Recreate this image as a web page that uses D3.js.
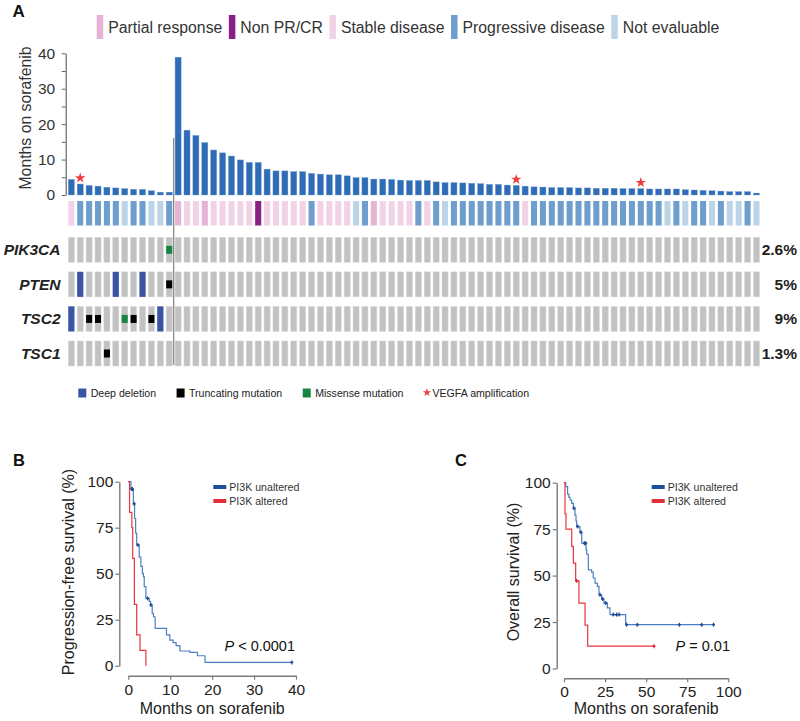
<!DOCTYPE html>
<html><head><meta charset="utf-8">
<script src="https://cdn.jsdelivr.net/npm/d3@7"></script>
<style>body{margin:0;background:#fff} svg{display:block}</style>
</head><body><svg id="c" width="800" height="721"></svg>
<script>
// ---------------- DATA ----------------
const monthsAltered = [4.4, 3.1, 2.7, 2.5, 2.2, 2.0, 1.8, 1.6, 1.6, 1.2, 0.8, 0.8];
const monthsUnaltered = [38.9, 18.3, 16.8, 14.8, 12.7, 11.9, 11.0, 9.9, 9.2, 9.2, 7.3, 6.8, 6.8, 6.6, 6.6, 6.1, 5.9, 5.7, 5.7, 5.4,
  4.9, 4.9, 4.5, 4.5, 4.4, 4.2, 4.1, 4.1, 4.1, 3.7, 3.5, 3.5, 3.4, 3.3, 3.2, 3.0, 3.0, 2.8, 2.7, 2.5,
  2.3, 2.25, 2.1, 2.1, 2.1, 2.0, 2.0, 1.9, 1.9, 1.9, 1.8, 1.8, 1.8, 1.7, 1.7, 1.7, 1.7, 1.5, 1.4, 1.3,
  1.2, 1.1, 0.95, 0.95, 0.95, 0.55];
const responseAltered = ["SD","PD","PD","PD","PD","PD","NE","PD","PD","NE","NE","PD"];
const responseUnaltered = ["PR","SD","SD","PR","SD","SD","SD","SD","SD","NPR","SD","SD","SD","SD","SD","PD","SD","SD","SD","SD",
  "NE","PD","PR","SD","SD","SD","SD","PD","SD","PD","NE","PD","PD","PD","PD","PD","PD","PD","PD","SD",
  "PD","PD","PD","PD","PD","PD","PD","PD","PD","PD","PD","PD","PD","PD","PD","NE","PD","NE","PD","PD",
  "NE","PD","NE","NE","PD","NE"];
const vegfaAltered = [1];
const vegfaUnaltered = [38, 52];
const responseCodes = ["PR","NPR","SD","PD","NE"];
const responseLabels = ["Partial response","Non PR/CR","Stable disease","Progressive disease","Not evaluable"];
const responseColors = ["#e5b3d5","#8b2084","#f1d2e7","#6e9ecd","#bcd4e8"];
const genes = ["PIK3CA","PTEN","TSC2","TSC1"];
const genePct = ["2.6%","5%","9%","1.3%"];
const altGene   = ["PIK3CA","PTEN","PTEN","PTEN","PTEN","TSC2","TSC2","TSC2","TSC2","TSC2","TSC2","TSC2","TSC1"];
const altSample = [11, 1, 5, 8, 11, 0, 2, 3, 6, 7, 9, 10, 4];
const altType   = ["mis","del","del","del","trunc","del","trunc","trunc","mis","trunc","trunc","del","trunc"];
const altCodes  = ["del","trunc","mis","vegfa"];
const altLabels = ["Deep deletion","Truncating mutation","Missense mutation","VEGFA amplification"];
const altColors = ["#3a55a6","#000000","#17843f","#ee3b3b"];
const yTicksA = [0, 5, 10, 15, 20, 25, 30, 35, 40];

// Kaplan-Meier (B: progression-free survival)
const pfsUnT = [0, 0.64, 1.2, 1.5, 1.75, 2.0, 2.6, 3.0, 3.35, 3.6, 3.8, 4.2, 5.0, 5.3, 5.7, 6.0, 6.4, 9.1, 9.9, 10.7, 11.4, 12.3, 14.7, 16.5, 18.3];
const pfsUnS = [100, 96, 88, 80, 72, 65.6, 59, 54, 50.2, 48.4, 43, 36.6, 35, 33, 28.4, 26.6, 20.3, 16.7, 13.9, 12.5, 10.9, 8, 7.2, 5.4, 1.8];
const pfsUnEnd = 39;
const pfsUnCensT = [0.8, 1.0, 1.4, 2.3, 4.6, 5.4, 39];
const pfsUnCensS = [96, 96, 88, 65.6, 36.6, 33, 1.8];
const pfsAlT = [0, 0.3, 0.85, 1.05, 1.45, 2.0, 2.8, 4.2];
const pfsAlS = [100, 83.3, 75, 58.3, 33.3, 16.7, 8.3, 0];
const pfsAlEnd = 4.2;
// Kaplan-Meier (C: overall survival)
const osUnT = [0, 1.0, 2.2, 3.0, 3.7, 4.7, 5.7, 6.7, 7.3, 7.7, 9.7, 10.8, 13.4, 13.8, 14.8, 16.8, 17.8, 18.9, 20.3, 21.3, 22.9, 24.3, 26.4, 28, 37.5];
const osUnS = [100, 97.9, 93.9, 92.1, 90.7, 88.9, 86.2, 82.6, 79.4, 76.4, 73.3, 67.4, 63.9, 61.5, 53.1, 51.9, 48.7, 46, 44.2, 39.7, 37.4, 35.2, 32.6, 29, 23.6];
const osUnEnd = 91;
const osUnCensT = [6.1, 8.3, 10.3, 12.4, 13.2, 21.9, 23.5, 25.4, 30, 32, 33.5, 38.1, 44.6, 70.2, 83.8, 91];
const osUnCensS = [86.2, 76.4, 73.3, 67.4, 67.4, 39.7, 37.4, 35.2, 29, 29, 29, 23.6, 23.6, 23.6, 23.6, 23.6];
const osAlT = [0, 0.6, 1.2, 4.7, 5.7, 7.1, 9.1, 12.8, 14.4];
const osAlS = [100, 83.2, 75, 65.7, 56.7, 47.2, 35.2, 23.3, 12];
const osAlEnd = 54.8;
const osAlCensT = [7.7, 54.8];
const osAlCensS = [47.2, 12];
const kmLegend = ["PI3K unaltered","PI3K altered"];
const kmColors = ["#4b80c2","#e8363c"];
const kmSwatch = ["#1f4f9c","#e0303a"];
const pfsTicksX = [0, 10, 20, 30, 40];
const osTicksX = [0, 25, 50, 75, 100];
const survTicks = [0, 25, 50, 75, 100];

// ---------------- DRAW ----------------
const FONT = '"Liberation Sans", Arial, Helvetica, sans-serif';
const svg = d3.select("#c").style("font-family", FONT);
svg.append("rect").attr("width", 800).attr("height", 721).attr("fill", "#fff");

const months = monthsAltered.concat(monthsUnaltered);
const response = responseAltered.concat(responseUnaltered);
const vegfa = vegfaAltered.concat(vegfaUnaltered.map(i => i + monthsAltered.length));
const n = months.length;

const x = d3.scaleBand().domain(d3.range(n)).range([68.3, 759.5]).paddingInner(0.32);
const y = d3.scaleLinear().domain([0, 40]).range([195, 53.3]);
const respColor = d3.scaleOrdinal().domain(responseCodes).range(responseColors);
const altColor = d3.scaleOrdinal().domain(altCodes).range(altColors);

// Panel label
svg.append("text").attr("x", 12.5).attr("y", 17).attr("font-size", 17).attr("font-weight", "bold").attr("fill", "#111").text("A");

// top legend
{
  let cx = 96.7;
  const g = svg.append("g");
  responseLabels.forEach((lab, i) => {
    g.append("rect").attr("x", cx).attr("y", 15).attr("width", 6.5).attr("height", 24).attr("fill", responseColors[i]);
    const t = g.append("text").attr("x", cx + 11.5).attr("y", 32.5).attr("font-size", 15.8).attr("fill", "#333").text(lab);
    cx = cx + 11.5 + t.node().getComputedTextLength() + 6.5;
  });
}

// bars
svg.append("g").selectAll("rect").data(months).join("rect")
  .attr("x", (d, i) => x(i)).attr("width", x.bandwidth())
  .attr("y", d => y(d)).attr("height", d => y(0) - y(d))
  .attr("fill", "#2e6cb5").attr("stroke", "#6f9ad0").attr("stroke-width", 0.4);

// y axis
const yAxA = svg.append("g").attr("transform", "translate(65.7,0)")
  .call(d3.axisLeft(y).tickValues(yTicksA).tickSize(4).tickSizeOuter(0).tickPadding(6.5)
    .tickFormat(d => d % 10 === 0 ? d : ""));
yAxA.select(".domain").attr("stroke", "#666").attr("stroke-width", 1.2);
yAxA.selectAll(".tick line").attr("stroke", "#666");
yAxA.selectAll(".tick text").attr("font-size", 15.5).attr("fill", "#333").attr("font-family", FONT);
svg.append("text").attr("transform", "translate(30.5,118) rotate(-90)").attr("text-anchor", "middle")
  .attr("font-size", 15.8).attr("fill", "#333").text("Months on sorafenib");

// VEGFA stars
const star = d3.symbol().type(d3.symbolStar).size(34);
svg.append("g").selectAll("path").data(vegfa).join("path")
  .attr("d", star).attr("fill", altColor("vegfa"))
  .attr("transform", i => `translate(${x(i) + x.bandwidth() / 2},${y(months[i]) - 6})`);

// response row
svg.append("g").selectAll("rect").data(response).join("rect")
  .attr("x", (d, i) => x(i)).attr("width", x.bandwidth())
  .attr("y", 201).attr("height", 24.5).attr("fill", d => respColor(d));

// oncoprint
const row = d3.scaleBand().domain(genes).range([237.3, 366]).paddingInner(0.277);
const og = svg.append("g");
genes.forEach((gname, gi) => {
  og.append("g").selectAll("rect").data(d3.range(n)).join("rect")
    .attr("x", i => x(i)).attr("width", x.bandwidth())
    .attr("y", row(gname)).attr("height", row.bandwidth())
    .attr("fill", "#c2c2c2").attr("stroke", "#d6d6d6").attr("stroke-width", 0.5);
  og.append("text").attr("x", 60.5).attr("y", row(gname) + row.bandwidth() / 2 + 5.5)
    .attr("text-anchor", "end").attr("font-size", 15.5).attr("font-weight", "bold").attr("font-style", "italic")
    .attr("fill", "#222").text(gname);
  og.append("text").attr("x", 797).attr("y", row(gname) + row.bandwidth() / 2 + 5.5)
    .attr("text-anchor", "end").attr("font-size", 15.5).attr("font-weight", "bold")
    .attr("fill", "#222").text(genePct[gi]);
});
og.append("g").selectAll("rect").data(altSample).join("rect")
  .attr("x", s => x(s)).attr("width", x.bandwidth())
  .attr("y", (s, k) => altType[k] === "del" ? row(altGene[k]) : row(altGene[k]) + row.bandwidth() / 2 - 4)
  .attr("height", (s, k) => altType[k] === "del" ? row.bandwidth() : 8)
  .attr("fill", (s, k) => altColor(altType[k]));

// separator line
{
  const na = monthsAltered.length;
  const sx = (x(na - 1) + x.bandwidth() + x(na)) / 2;
  svg.append("line").attr("x1", sx).attr("x2", sx).attr("y1", 138).attr("y2", 365)
    .attr("stroke", "#8a8a8a").attr("stroke-width", 1.3);
}

// bottom legend
{
  let cx = 78.3;
  const g = svg.append("g");
  altLabels.forEach((lab, i) => {
    if (altCodes[i] === "vegfa") {
      g.append("path").attr("d", d3.symbol().type(d3.symbolStar).size(22)).attr("fill", altColors[i])
        .attr("transform", `translate(${cx + 3},${392.5})`);
    } else {
      g.append("rect").attr("x", cx).attr("y", 388.5).attr("width", 8).attr("height", 9).attr("fill", altColors[i]);
    }
    const tx = altCodes[i] === "vegfa" ? cx + 8.5 : cx + 12.4;
    const t = g.append("text").attr("x", tx).attr("y", 397).attr("font-size", 10.6).attr("fill", "#222").text(lab);
    cx = tx + t.node().getComputedTextLength() + 20.5;
  });
}

// ---------------- KM panels ----------------
function kmPanel(opt) {
  const g = svg.append("g");
  const xs = d3.scaleLinear().domain(opt.xDomain).range(opt.xRange);
  const ys = d3.scaleLinear().domain([0, 100]).range(opt.yRange);
  g.append("text").attr("x", opt.labelX).attr("y", 466).attr("font-size", 16.5).attr("font-weight", "bold").attr("fill", "#111").text(opt.label);
  const ya = g.append("g").attr("transform", `translate(${opt.yAxisX},0)`)
    .call(d3.axisLeft(ys).tickValues(survTicks).tickSize(4).tickSizeOuter(0).tickPadding(2));
  const xa = g.append("g").attr("transform", `translate(0,${opt.xAxisY})`)
    .call(d3.axisBottom(xs).tickValues(opt.xTicks).tickSize(4).tickSizeOuter(0).tickPadding(4));
  [ya, xa].forEach(a => {
    a.select(".domain").attr("stroke", "#7a7a7a").attr("stroke-width", 1.4);
    a.selectAll(".tick line").attr("stroke", "#7a7a7a").attr("stroke-width", 1.2);
    a.selectAll(".tick text").attr("font-size", 15.5).attr("fill", "#222").attr("font-family", FONT);
  });
  g.append("text").attr("x", (opt.xRange[0] + opt.xRange[1]) / 2).attr("y", 713.5).attr("text-anchor", "middle")
    .attr("font-size", 16).attr("fill", "#222").text("Months on sorafenib");
  g.append("text").attr("transform", `translate(${opt.yTitleX},572) rotate(-90)`).attr("text-anchor", "middle")
    .attr("font-size", 16).attr("fill", "#222").text(opt.yTitle);
  const line = d3.line().x(d => xs(d[0])).y(d => ys(d[1])).curve(d3.curveStepAfter);
  opt.curves.forEach((c, ci) => {
    const pts = c.t.map((t, i) => [t, c.s[i]]);
    pts.push([c.end, c.s[c.s.length - 1]]);
    g.append("path").attr("d", line(pts)).attr("fill", "none").attr("stroke", kmColors[ci]).attr("stroke-width", 1.2);
    if (c.ct) {
      const cs = ci === 0 ? "#1d4a93" : "#d42a32";
      c.ct.forEach((t, i) => {
        const px = xs(t), py = ys(c.cs[i]);
        g.append("line").attr("x1", px).attr("x2", px).attr("y1", py - 2).attr("y2", py + 2).attr("stroke", cs).attr("stroke-width", 1.2);
        g.append("line").attr("x1", px - 1.5).attr("x2", px + 1.5).attr("y1", py).attr("y2", py).attr("stroke", cs).attr("stroke-width", 1.6);
      });
    }
  });
  kmLegend.forEach((lab, i) => {
    const ly = 487 + i * 14;
    g.append("rect").attr("x", opt.legX).attr("y", ly - 2).attr("width", 13).attr("height", 4).attr("fill", kmSwatch[i]);
    g.append("text").attr("x", opt.legX + 16).attr("y", ly + 4).attr("font-size", 10.6).attr("fill", "#333").text(lab);
  });
  const pt = g.append("text").attr("x", opt.pX).attr("y", 651).attr("text-anchor", "end").attr("font-size", 14.5).attr("fill", "#111");
  pt.append("tspan").attr("font-style", "italic").text("P");
  pt.append("tspan").text(opt.pText);
}

kmPanel({
  label: "B", labelX: 13, xDomain: [0, 40], xRange: [128.3, 296], yRange: [665.7, 481.7],
  yAxisX: 119.3, xAxisY: 675.7, xTicks: pfsTicksX, yTitle: "Progression-free survival (%)", yTitleX: 74,
  legX: 213.3, pX: 295, pText: " < 0.0001",
  curves: [
    { t: pfsUnT, s: pfsUnS, end: pfsUnEnd, ct: pfsUnCensT, cs: pfsUnCensS },
    { t: pfsAlT, s: pfsAlS, end: pfsAlEnd }
  ]
});
kmPanel({
  label: "C", labelX: 455, xDomain: [0, 100], xRange: [564, 728.3], yRange: [668.5, 482.7],
  yAxisX: 556.7, xAxisY: 678.3, xTicks: osTicksX, yTitle: "Overall survival (%)", yTitleX: 519,
  legX: 651.7, pX: 730, pText: " = 0.01",
  curves: [
    { t: osUnT, s: osUnS, end: osUnEnd, ct: osUnCensT, cs: osUnCensS },
    { t: osAlT, s: osAlS, end: osAlEnd, ct: osAlCensT, cs: osAlCensS }
  ]
});
</script></body></html>
